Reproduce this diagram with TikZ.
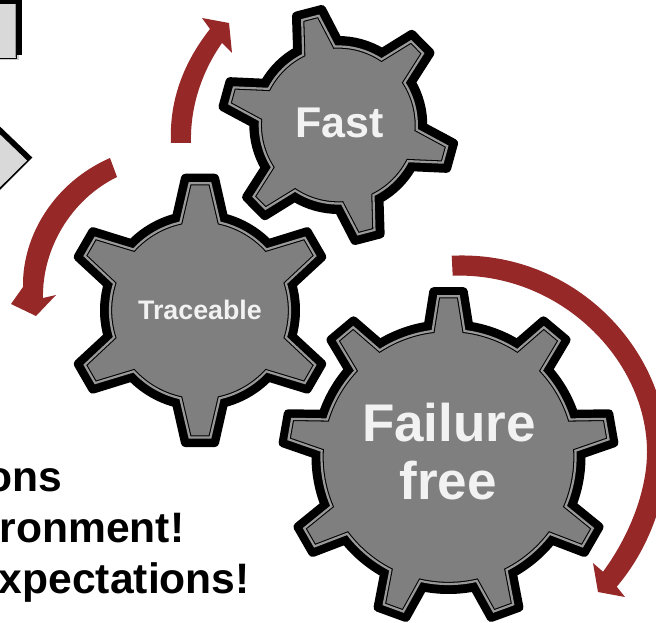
\documentclass[tikz,border=0pt]{standalone}
\usepackage{fontspec}
\setmainfont{Liberation Sans}
\definecolor{arrowred}{HTML}{962828}
\definecolor{geargray}{HTML}{7F7F7F}
\definecolor{ringgray}{HTML}{999999}
\definecolor{panelgray}{HTML}{D9D9D9}
\definecolor{gearlabel}{HTML}{F2F2F2}
% #1 teeth, #2 pitch, #3 phase, #4 root r, #5 tip r, #6 base half angle, #7 tip half angle
\newcommand{\gearoutline}[7]{
  ({#3-#6}:#4)
  \foreach \ti in {1,...,#1}{
    -- ({#3+(\ti-1)*#2-#6}:#4)
    -- ({#3+(\ti-1)*#2-#7}:#5)
    -- ({#3+(\ti-1)*#2+#7}:#5)
    -- ({#3+(\ti-1)*#2+#6}:#4)
    arc[start angle={#3+(\ti-1)*#2+#6},end angle={#3+\ti*#2-#6},radius=#4]
  } -- cycle
}
\newcommand{\gearshape}[9]{%
  \begin{scope}[shift={(#1,#2)}]
    \draw[line width=9pt,line join=round,draw=black,fill=black] \gearoutline{#3}{#4}{#5}{#6}{#7}{#8}{#9};
  \end{scope}}
\newcommand{\gearinner}[9]{%
  \begin{scope}[shift={(#1,#2)}]
    \draw[line width=4.3pt,line join=miter,draw=black,fill=geargray] \gearoutline{#3}{#4}{#5}{#6}{#7}{#8}{#9};
    \draw[line width=2.2pt,line join=miter,draw=ringgray] \gearoutline{#3}{#4}{#5}{#6}{#7}{#8}{#9};
  \end{scope}}
\tikzset{
  sweep/.style={fill=arrowred,draw=none},
  gearword/.style={text=gearlabel,anchor=base,inner sep=0pt},
  slogan/.style={text=black,font=\fontsize{42.6}{42.6}\selectfont\bfseries,anchor=base east,inner sep=0pt}
}
\begin{document}
\begin{tikzpicture}[x=1pt,y=-1pt]
\useasboundingbox (0,0) rectangle (656,623);
\clip (0,0) rectangle (656,623);
\fill[white] (0,0) rectangle (656,623);
% cut-off panels on the left
\fill[gray!40] (-10,50) rectangle (18.5,60);
\fill[black] (-10,-10) rectangle (21.5,55.5);
\draw[black,line width=1pt,fill=panelgray] (-10,4) rectangle (16.5,58.5);
\draw[ringgray,line width=0.8pt] (15.6,4.5) -- (15.6,57.5);
\fill[black] (-10,117) -- (32.3,157.5) -- (0,190) -- (-10,190) -- cycle;
\draw[black,line width=1pt,fill=panelgray] (-10,124) -- (28,160.5) -- (-10,198) -- cycle;
% sweep arrows
\fill[sweep] (171,143) .. controls (169,100) and (184,62) .. (210,29) -- (202,18) -- (229,23) -- (232,53) -- (222,43) .. controls (203,70) and (190,105) .. (191,143) -- cycle;
\fill[sweep] (110,158) .. controls (55,182) and (22,235) .. (23,287) -- (11,304) -- (36,316) -- (56,295) -- (43,298) .. controls (42,250) and (70,200) .. (117,177) -- cycle;
\fill[sweep] (451.7,255.7) .. controls (575,250) and (667,350) .. (667,452) .. controls (667,500) and (648,550) .. (616.7,586.7) -- (625,597) -- (598,592) -- (593,563) -- (603,571.7) .. controls (630,535) and (647,490) .. (647,452) .. controls (647,360) and (560,272) .. (452.7,275.7) -- cycle;
% gears
\gearshape{338.3}{125}{6}{60}{15.4}{84.5}{116.7}{14.2}{6.4}
\gearinner{338.3}{125}{6}{60}{15.4}{78.5}{111}{12}{4.4}
\gearshape{200}{310.4}{6}{60}{270}{95.5}{133}{14.3}{6.3}
\gearinner{200}{310.4}{6}{60}{270}{90}{127.5}{12.6}{4.7}
\gearshape{448.5}{457}{9}{40}{270}{132.5}{166}{8.8}{5.1}
\gearinner{448.5}{457}{9}{40}{270}{127}{161}{7.2}{3.7}
% labels
\node[gearword,font=\fontsize{43}{43}\selectfont\bfseries] (fast) at (339.5,138) {Fast};
\node[gearword,font=\fontsize{26.8}{26.8}\selectfont\bfseries] (traceable) at (200,319) {Traceable};
\node[gearword,font=\fontsize{53}{53}\selectfont\bfseries] (failure) at (449,441.7) {Failure};
\node[gearword,font=\fontsize{53}{53}\selectfont\bfseries] (free) at (448,499) {free};
\node[slogan] (line1) at (62,491.7) {ons};
\node[slogan] (line2) at (184.5,542.7) {ronment!};
\node[slogan] (line3) at (250,593) {xpectations!};
\end{tikzpicture}
\end{document}
